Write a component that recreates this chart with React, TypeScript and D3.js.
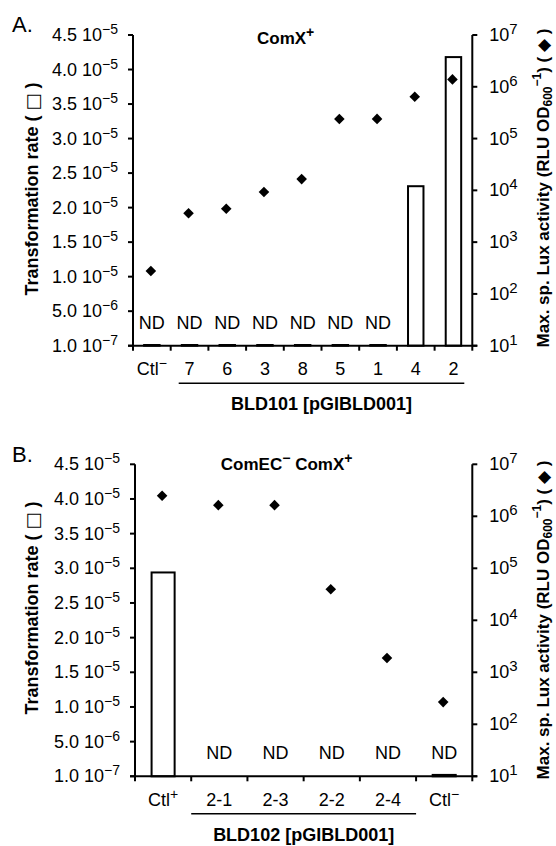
import React from "react";
import * as d3 from "d3";

// ---------- data ----------
const catsA = ["Ctl−", "7", "6", "3", "8", "5", "1", "4", "2"];
const rateA = [1e-7, 1e-7, 1e-7, 1e-7, 1e-7, 1e-7, 1e-7, 2.31e-5, 4.18e-5];
const luxA = [277, 3600, 4400, 9270, 16500, 238000, 240000, 641000, 1390000];
const ndA = [true, true, true, true, true, true, true, false, false];

const catsB = ["Ctl+", "2-1", "2-3", "2-2", "2-4", "Ctl−"];
const rateB = [2.94e-5, 0, 0, 0, 0, 2e-7];
const luxB = [2480000, 1640000, 1640000, 39600, 1880, 267];
const ndB = [false, true, true, true, true, true];

const leftTickVals = [0, 5e-6, 1e-5, 1.5e-5, 2e-5, 2.5e-5, 3e-5, 3.5e-5, 4e-5, 4.5e-5];
const leftTickLabels = [
  ["1.0", "−7"], ["5.0", "−6"], ["1.0", "−5"], ["1.5", "−5"], ["2.0", "−5"],
  ["2.5", "−5"], ["3.0", "−5"], ["3.5", "−5"], ["4.0", "−5"], ["4.5", "−5"],
];
const rightTickExp = [1, 2, 3, 4, 5, 6, 7];

const FONT = "'Liberation Sans', Arial, Helvetica, sans-serif";

type PanelProps = {
  letter: string;
  titleParts: [string, string][];
  titleY: number;
  cats: string[];
  rate: number[];
  lux: number[];
  nd: boolean[];
  x0: number;
  x1: number;
  yTop: number;
  yBot: number;
  group: string;
  groupFrom: number;
  groupTo: number;
  lineInset: number;
  leftLabelY: number;
  rightLabelY: number;
  letterY: number;
};

function CatLabel({ s, x, y }: { s: string; x: number; y: number }) {
  const last = s[s.length - 1];
  if (last === "−" || last === "+") {
    return (
      <text x={x} y={y} textAnchor="middle" fontSize={18}>
        <tspan>{s.slice(0, -1)}</tspan>
        <tspan dy={-7} fontSize={14}>{last}</tspan>
      </text>
    );
  }
  return (
    <text x={x} y={y} textAnchor="middle" fontSize={18}>
      {s}
    </text>
  );
}

function Panel(p: PanelProps) {
  const xs = d3
    .scaleBand<number>()
    .domain(d3.range(p.cats.length))
    .range([p.x0, p.x1])
    .paddingInner(0)
    .paddingOuter(0);
  const bw = xs.bandwidth();
  const yL = d3.scaleLinear().domain([0, 4.5e-5]).range([p.yBot, p.yTop]);
  const yR = d3.scaleLog().domain([10, 1e7]).range([p.yBot, p.yTop]);
  const diamond = d3.symbol().type(d3.symbolSquare).size(56)();
  const barW = bw * 0.41;

  return (
    <g fontFamily={FONT} fill="#000">
      <text x={12} y={p.letterY} fontSize={22}>{p.letter}</text>
      <text x={(p.x0 + p.x1) / 2 - 17} y={p.titleY} textAnchor="middle" fontSize={17} fontWeight="bold">
        {p.titleParts.map(([t, s], i) => (
          <React.Fragment key={i}>
            <tspan dy={i === 0 ? 0 : 7}>{(i > 0 ? " " : "") + t}</tspan>
            <tspan dy={-7} fontSize={14}>{s}</tspan>
          </React.Fragment>
        ))}
      </text>

      {/* bars */}
      {p.rate.map((v, i) =>
        v > 0 ? (
          <rect
            key={"b" + i}
            x={(xs(i) as number) + bw / 2 - barW / 2}
            y={yL(v)}
            width={barW}
            height={p.yBot - yL(v)}
            fill="#fff"
            stroke="#000"
            strokeWidth={2}
          />
        ) : null
      )}

      {/* diamonds */}
      {p.lux.map((v, i) => (
        <path
          key={"d" + i}
          d={diamond as string}
          transform={`translate(${(xs(i) as number) + bw / 2 - 1},${yR(v)}) rotate(45)`}
          fill="#000"
        />
      ))}

      {/* ND labels */}
      {p.nd.map((n, i) =>
        n ? (
          <text key={"n" + i} x={(xs(i) as number) + bw / 2} y={p.yBot - 17} textAnchor="middle" fontSize={18}>
            ND
          </text>
        ) : null
      )}

      {/* axes */}
      <g stroke="#000" strokeWidth={2} fill="none">
        <line x1={p.x0} x2={p.x0} y1={p.yTop} y2={p.yBot} />
        <line x1={p.x1} x2={p.x1} y1={p.yTop} y2={p.yBot} />
        <line x1={p.x0 - 5} x2={p.x1 + 5} y1={p.yBot} y2={p.yBot} />
        {leftTickVals.map((v, i) => (
          <line key={"lt" + i} x1={p.x0 - 5} x2={p.x0} y1={yL(v)} y2={yL(v)} />
        ))}
        {rightTickExp.map((e, i) => (
          <line key={"rt" + i} x1={p.x1} x2={p.x1 + 5} y1={yR(Math.pow(10, e))} y2={yR(Math.pow(10, e))} />
        ))}
        {d3.range(p.cats.length + 1).map((i) => {
          const x = p.x0 + i * bw;
          return <line key={"xt" + i} x1={x} x2={x} y1={p.yBot} y2={p.yBot + 5} />;
        })}
      </g>

      {/* left tick labels */}
      {leftTickVals.map((v, i) => (
        <text key={"ll" + i} x={p.x0 - 15} y={yL(v) + 6} textAnchor="end" fontSize={18}>
          <tspan>{leftTickLabels[i][0] + " 10"}</tspan>
          <tspan dy={-7} fontSize={14}>{leftTickLabels[i][1]}</tspan>
        </text>
      ))}

      {/* right tick labels */}
      {rightTickExp.map((e, i) => (
        <text key={"rl" + i} x={p.x1 + 17} y={yR(Math.pow(10, e)) + 6} fontSize={18}>
          <tspan>10</tspan>
          <tspan dy={-7} fontSize={15}>{String(e)}</tspan>
        </text>
      ))}

      {/* category labels */}
      {p.cats.map((c, i) => (
        <CatLabel key={"c" + i} s={c} x={(xs(i) as number) + bw / 2} y={p.yBot + 29.5} />
      ))}

      {/* group line + label */}
      <line
        x1={(xs(p.groupFrom) as number) + p.lineInset}
        x2={(xs(p.groupTo) as number) + bw - p.lineInset}
        y1={p.yBot + 37.5}
        y2={p.yBot + 37.5}
        stroke="#000"
        strokeWidth={1.5}
      />
      <text
        x={((xs(p.groupFrom) as number) + (xs(p.groupTo) as number) + bw) / 2}
        y={p.yBot + 64.5}
        textAnchor="middle"
        fontSize={18}
        fontWeight="bold"
      >
        {p.group}
      </text>

      {/* y axis titles */}
      <text
        transform={`translate(32,${p.leftLabelY}) rotate(-90)`}
        textAnchor="middle"
        dominantBaseline="central"
        fontSize={18}
        fontWeight="bold"
      >
        Transformation rate ( <tspan fontFamily="'DejaVu Sans', sans-serif" fontWeight="normal">□</tspan> )
      </text>
      <text
        transform={`translate(549,${p.rightLabelY}) rotate(-90)`}
        textAnchor="middle"
        fontSize={17}
        fontWeight="bold"
      >
        <tspan>Max. sp. Lux activity (RLU OD</tspan>
        <tspan dy={3} fontSize={12}>600</tspan>
        <tspan dy={-11} fontSize={12}>−1</tspan>
        <tspan dy={8}>) ( </tspan>
        <tspan fontFamily="'DejaVu Sans', sans-serif">◆</tspan>
        <tspan> )</tspan>
      </text>
    </g>
  );
}

export default function App() {
  return (
    <svg
      width={556}
      height={846}
      viewBox="0 0 556 846"
      style={{ position: "absolute", left: 0, top: 0, background: "#fff" }}
    >
      <rect width={556} height={846} fill="#fff" />
      <Panel
        letter="A."
        letterY={32}
        titleParts={[["ComX", "+"]]}
        titleY={43.5}
        cats={catsA}
        rate={rateA}
        lux={luxA}
        nd={ndA}
        x0={133}
        x1={472.3}
        yTop={35}
        yBot={345.7}
        group="BLD101 [pGIBLD001]"
        groupFrom={1}
        groupTo={8}
        lineInset={8}
        leftLabelY={189}
        rightLabelY={188}
      />
      <Panel
        letter="B."
        letterY={462}
        titleParts={[["ComEC", "−"], ["ComX", "+"]]}
        titleY={470}
        cats={catsB}
        rate={rateB}
        lux={luxB}
        nd={ndB}
        x0={135}
        x1={472.3}
        yTop={464.3}
        yBot={776.3}
        group="BLD102 [pGIBLD001]"
        groupFrom={1}
        groupTo={4}
        lineInset={0}
        leftLabelY={608}
        rightLabelY={620}
      />
    </svg>
  );
}
